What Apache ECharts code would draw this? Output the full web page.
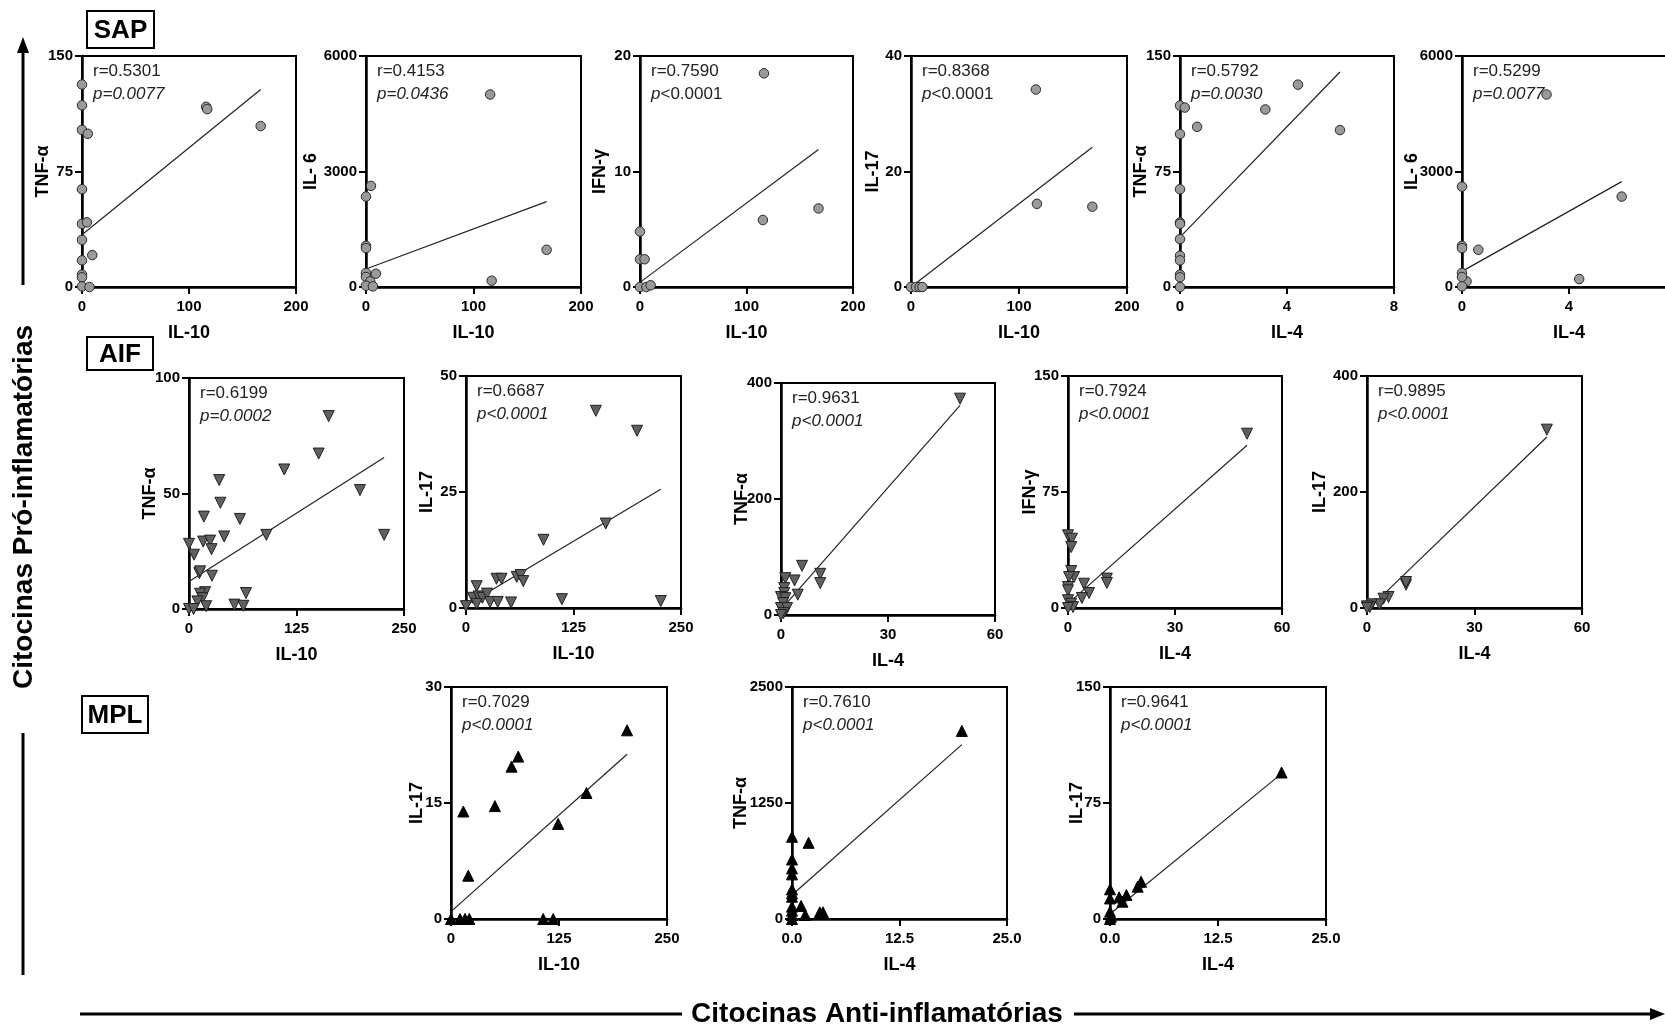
<!DOCTYPE html>
<html><head><meta charset="utf-8">
<script src="https://cdn.jsdelivr.net/npm/echarts@6/dist/echarts.min.js"></script>
<style>html,body{margin:0;padding:0;background:#fff;overflow:hidden;width:1665px;height:1027px}#c{width:1700px;height:1027px}</style>
</head><body><div id="c"></div>
<script>
// ---------------- DATA ----------------
// SAP group (circles)
const sapIl10Tnf = [[0,131.5],[0,118],[0,102],[5.4,99.5],[116,117],[117,115.5],[167,104.5],[0,63.5],[0,41],[4.6,42],[0,30.6],[9.6,20.7],[0,17.3],[0,8],[0,6.3],[0,0.4],[7,0]];
const sapIl10TnfFit = [[0,33.9],[167,128.2]];
const sapIl10Il6 = [[115.5,5000],[4.6,2625],[0,2350],[0,1070],[0,1010],[168,967],[9.2,345],[0,363],[0,260],[3.9,147],[116.9,164],[0,35],[6.4,17]];
const sapIl10Il6Fit = [[0,466],[168,2219]];
const sapIl10Ifn = [[116.4,18.5],[115.4,5.8],[167.6,6.8],[0,4.8],[0,2.4],[4.3,2.4],[0,0],[6,0],[10,0.15]];
const sapIl10IfnFit = [[0,0.4],[167.6,11.9]];
const sapIl10Il17 = [[115.6,34.2],[116.6,14.4],[167.9,13.9],[0,0],[4.6,0],[8,0],[10.6,0]];
const sapIl10Il17Fit = [[0,0],[167.9,24.2]];
const sapIl4Tnf = [[4.41,131.4],[0,117.8],[0.18,116.5],[3.19,115.3],[0.64,104],[5.98,101.9],[0,99.3],[0,63.5],[0,41.9],[0,41],[0,31.1],[0,20.3],[0,17.3],[0,8],[0,6.3],[0,0]];
const sapIl4TnfFit = [[0,32.4],[5.98,139.6]];
const sapIl4Il6 = [[3.16,5000],[0,2607],[5.97,2348],[0,1070],[0,1010],[0.61,967],[0,363],[0.17,147],[0,260],[4.38,207],[0,17]];
const sapIl4Il6Fit = [[0,406],[5.97,2737]];
// AIF group (down triangles)
const aifIl10Tnf = [[162.4,83.5],[150.8,67.3],[110.8,60.4],[198.8,51.5],[35.1,55.8],[36.5,46],[17.3,40],[59.2,39],[226.9,32.1],[89.9,32.1],[40.9,31.4],[0,28.2],[16.5,29.2],[24.5,29.6],[26.2,25.9],[5.8,23.5],[12,15.5],[12.9,16.3],[26.7,14.4],[18.7,7.3],[12.9,6.6],[66.3,6.9],[15.6,4.7],[9.8,3.3],[52.9,1.9],[63.2,1.4],[20,1.2],[0,0],[5.3,0]];
const aifIl10TnfFit = [[0,11.9],[226.9,65.6]];
const aifIl10Il17 = [[151,42.5],[198.9,38.2],[162.5,18.2],[90.1,14.7],[35.5,6.3],[41.3,6.3],[59,6.7],[63.5,7.1],[66.6,5.8],[12.4,4.7],[8,2.2],[14.7,2.5],[19.1,2.2],[24.4,3.1],[28,1.3],[36.9,1.3],[52.4,1.2],[111.5,1.9],[226.5,1.5],[12.4,0.9],[0,0.4]];
const aifIl10Il17Fit = [[0,0.6],[226.5,25.6]];
const aifIl4Tnf = [[50.2,373],[5.9,84.8],[11,71],[11,55],[1.2,63.6],[3.8,59.6],[4.7,35],[0.9,46.4],[0.9,37.8],[0,31],[1.2,29],[0.6,20.6],[0,12],[1.7,12],[0.7,3.4],[0,0]];
const aifIl4TnfFit = [[0,9.2],[50.2,361.6]];
const aifIl4Ifn = [[50.2,112.7],[0,47],[1.1,44.8],[0.9,39.4],[0.9,23.9],[1.7,20],[0.3,20],[10.9,19],[10.9,16.2],[4.5,15.7],[5.9,9.7],[0,13.6],[0,11.4],[3.9,6.5],[0,5],[0.9,2.8],[1.4,0.6],[0,0]];
const aifIl4IfnFit = [[0,2.8],[50.2,105.2]];
const aifIl4Il17 = [[50.2,307.5],[10.9,40.2],[10.9,44.8],[6,19],[4.6,16.1],[3.5,6.3],[1.3,6.3],[0.8,1.7],[0,2.9],[0,0]];
const aifIl4Il17Fit = [[0.8,0.6],[50.2,294.8]];
// MPL group (up triangles)
const mplIl10Il17 = [[203.8,24.4],[77.8,21],[70.1,19.7],[50.8,14.6],[14.3,13.9],[156.8,16.3],[124,12.3],[20,5.6],[0,0],[10.4,0],[16.2,0],[21.2,0],[106.7,0],[118.3,0]];
const mplIl10Il17Fit = [[0,0.95],[203.8,21.3]];
const mplIl4Tnf = [[19.75,2027],[1.93,821],[0,886],[0,642],[0,545],[0,481],[0,319],[0,276],[0,240],[1.06,140],[0,133],[0,90],[1.54,43],[3.23,72],[3.6,72],[0,43],[0,0]];
const mplIl4TnfFit = [[0,258],[19.75,1879]];
const mplIl4Il17 = [[19.86,94.7],[3.6,24.1],[3.2,20.9],[1.9,15.5],[1.06,14],[1.44,11.2],[0,19.2],[0,13.3],[0,4.7],[0,0],[0.1,1.5]];
const mplIl4Il17Fit = [[0,3.2],[19.86,94]];

// correlation statistics
const sapR = ['0.5301','0.4153','0.7590','0.8368','0.5792','0.5299'];
const sapP = ['=0.0077','=0.0436','<0.0001','<0.0001','=0.0030','=0.0077'];
const aifR = ['0.6199','0.6687','0.9631','0.7924','0.9895'];
const aifP = ['=0.0002','<0.0001','<0.0001','<0.0001','<0.0001'];
const mplR = ['0.7029','0.7610','0.9641'];
const mplP = ['<0.0001','<0.0001','<0.0001'];

// axis names and ranges (tick labels)
const sapXNames = ['IL-10','IL-10','IL-10','IL-10','IL-4','IL-4'];
const sapYNames = ['TNF-\u03b1','IL- 6','IFN-\u03b3','IL-17','TNF-\u03b1','IL- 6'];
const aifXNames = ['IL-10','IL-10','IL-4','IL-4','IL-4'];
const aifYNames = ['TNF-\u03b1','IL-17','TNF-\u03b1','IFN-\u03b3','IL-17'];
const mplXNames = ['IL-10','IL-4','IL-4'];
const mplYNames = ['IL-17','TNF-\u03b1','IL-17'];
const sapXMax = [200,200,200,200,8,8];
const sapYMax = [150,6000,20,40,150,6000];
const aifXMax = [250,250,60,60,60];
const aifYMax = [100,50,400,150,400];
const mplXMax = [250,25,25];
const mplYMax = [30,2500,150];

// ---------------- LAYOUT / STYLE ----------------
const FONT = "'Liberation Sans', Arial, Helvetica, sans-serif";
const groups = [
  {data:[sapIl10Tnf,sapIl10Il6,sapIl10Ifn,sapIl10Il17,sapIl4Tnf,sapIl4Il6],
   fit:[sapIl10TnfFit,sapIl10Il6Fit,sapIl10IfnFit,sapIl10Il17Fit,sapIl4TnfFit,sapIl4Il6Fit],
   r:sapR,p:sapP,xn:sapXNames,yn:sapYNames,xm:sapXMax,ym:sapYMax,
   pItalicAll:[true,true,false,false,true,true],
   sym:{symbol:'circle',symbolSize:9.5,symbolRotate:0,color:'#9a9a9a',border:'#2a2a2a'},
   lay:[[82,56,214,231,30],[366,56,215,231,46],[640,56,213,231,31],[911,56,216,231,29],[1180,56,214,231,30],[1462,56,214,231,41]]},
  {data:[aifIl10Tnf,aifIl10Il17,aifIl4Tnf,aifIl4Ifn,aifIl4Il17],
   fit:[aifIl10TnfFit,aifIl10Il17Fit,aifIl4TnfFit,aifIl4IfnFit,aifIl4Il17Fit],
   r:aifR,p:aifP,xn:aifXNames,yn:aifYNames,xm:aifXMax,ym:aifYMax,
   pItalicAll:[true,true,true,true,true],
   sym:{symbol:'triangle',symbolSize:11,symbolRotate:180,color:'#606060',border:'#222'},
   lay:[[189,378,215,231,30],[466,376,215,232,30],[781,383,214,232,30],[1068,376,214,232,29],[1367,376,215,232,38]]},
  {data:[mplIl10Il17,mplIl4Tnf,mplIl4Il17],
   fit:[mplIl10Il17Fit,mplIl4TnfFit,mplIl4Il17Fit],
   r:mplR,p:mplP,xn:mplXNames,yn:mplYNames,xm:mplXMax,ym:mplYMax,
   pItalicAll:[true,true,true],
   sym:{symbol:'triangle',symbolSize:11,symbolRotate:0,color:'#000',border:'#000'},
   lay:[[451,687,216,232,25],[792,687,215,232,42],[1110,687,216,232,24]]}
];

const grid=[],xAxis=[],yAxis=[],series=[],graphic=[];
let gi=0;
groups.forEach(g=>{
  g.data.forEach((d,k)=>{
    const L=g.lay[k];
    grid.push({left:L[0],top:L[1],width:L[2],height:L[3],show:true,borderColor:'#000',borderWidth:2,backgroundColor:'transparent'});
    const xm=g.xm[k], ym=g.ym[k];
    const axisCommon={
      type:'value',gridIndex:gi,min:0,
      axisLine:{show:true,onZero:false,lineStyle:{color:'#000',width:2.5}},
      axisTick:{show:true,length:7,lineStyle:{color:'#000',width:2}},
      splitLine:{show:false},
      nameLocation:'middle',
      nameMoveOverlap:false,
      nameTextStyle:{color:'#000',fontWeight:'bold',fontSize:18,fontFamily:FONT}
    };
    xAxis.push(Object.assign({},axisCommon,{max:xm,interval:xm/2,name:g.xn[k],nameGap:37,
      axisLabel:{color:'#000',fontWeight:'bold',fontSize:15,fontFamily:FONT,margin:12,
        formatter:(v)=> (xm===25? v.toFixed(1): String(v))}}));
    yAxis.push(Object.assign({},axisCommon,{max:ym,interval:ym/2,name:g.yn[k],nameGap:L[4],nameRotate:90,
      axisLabel:{color:'#000',fontWeight:'bold',fontSize:15,fontFamily:FONT,margin:9,
        formatter:(v)=>String(v)}}));
    series.push({type:'scatter',xAxisIndex:gi,yAxisIndex:gi,data:d,clip:false,
      symbol:g.sym.symbol,symbolSize:g.sym.symbolSize,symbolRotate:g.sym.symbolRotate,
      itemStyle:{color:g.sym.color,borderColor:g.sym.border,borderWidth:1,opacity:1},z:3});
    series.push({type:'line',xAxisIndex:gi,yAxisIndex:gi,data:g.fit[k],symbol:'none',
      lineStyle:{color:'#222',width:1.2},z:2,silent:true});
    // annotations
    graphic.push({type:'text',x:L[0]+11,y:L[1]+15,z:10,style:{text:'r='+g.r[k],fill:'#222',
      font:'17px '+FONT,align:'left',verticalAlign:'middle'}});
    if(g.pItalicAll[k]){
      graphic.push({type:'text',x:L[0]+11,y:L[1]+38,z:10,style:{text:'p'+g.p[k],fill:'#222',
        font:'italic 17px '+FONT,align:'left',verticalAlign:'middle'}});
    } else {
      graphic.push({type:'text',x:L[0]+11,y:L[1]+38,z:10,style:{text:'{i|p}{n|'+g.p[k]+'}',fill:'#222',
        font:'17px '+FONT,align:'left',verticalAlign:'middle',
        rich:{i:{fontStyle:'italic',fontSize:17,fontFamily:FONT,fill:'#222'},n:{fontSize:17,fontFamily:FONT,fill:'#222'}}}});
    }
    gi++;
  });
});

// group label boxes
const boxes=[['SAP',87,11,67,37],['AIF',87,337,66,33],['MPL',82,696,66,37]];
boxes.forEach(b=>{
  graphic.push({type:'rect',shape:{x:b[1],y:b[2],width:b[3],height:b[4]},style:{fill:'#fff',stroke:'#000',lineWidth:2},z:10});
  graphic.push({type:'text',x:b[1]+b[3]/2,y:b[2]+b[4]/2+1,z:11,style:{text:b[0],fill:'#000',font:'bold 26px '+FONT,align:'center',verticalAlign:'middle'}});
});
// side arrows and titles
graphic.push({type:'line',shape:{x1:23,y1:285,x2:23,y2:50},style:{stroke:'#000',lineWidth:3},z:10});
graphic.push({type:'polygon',shape:{points:[[23,37],[17,53],[29,53]]},style:{fill:'#000'},z:10});
graphic.push({type:'line',shape:{x1:23,y1:733,x2:23,y2:975},style:{stroke:'#000',lineWidth:3},z:10});
graphic.push({type:'text',x:24,y:507,rotation:Math.PI/2,z:10,style:{text:'Citocinas Pr\u00f3-inflamat\u00f3rias',fill:'#000',font:'bold 28px '+FONT,align:'center',verticalAlign:'middle'}});
graphic.push({type:'line',shape:{x1:80,y1:1014,x2:682,y2:1014},style:{stroke:'#000',lineWidth:3},z:10});
graphic.push({type:'line',shape:{x1:1074,y1:1014,x2:1652,y2:1014},style:{stroke:'#000',lineWidth:3},z:10});
graphic.push({type:'polygon',shape:{points:[[1665,1014],[1650,1008],[1650,1020]]},style:{fill:'#000'},z:10});
graphic.push({type:'text',x:877,y:1014,z:10,style:{text:'Citocinas Anti-inflamat\u00f3rias',fill:'#000',font:'bold 28px '+FONT,align:'center',verticalAlign:'middle'}});

const chart=echarts.init(document.getElementById('c'),null,{renderer:'canvas'});
chart.setOption({animation:false,backgroundColor:'#fff',textStyle:{fontFamily:FONT},grid,xAxis,yAxis,series,graphic});
</script></body></html>
